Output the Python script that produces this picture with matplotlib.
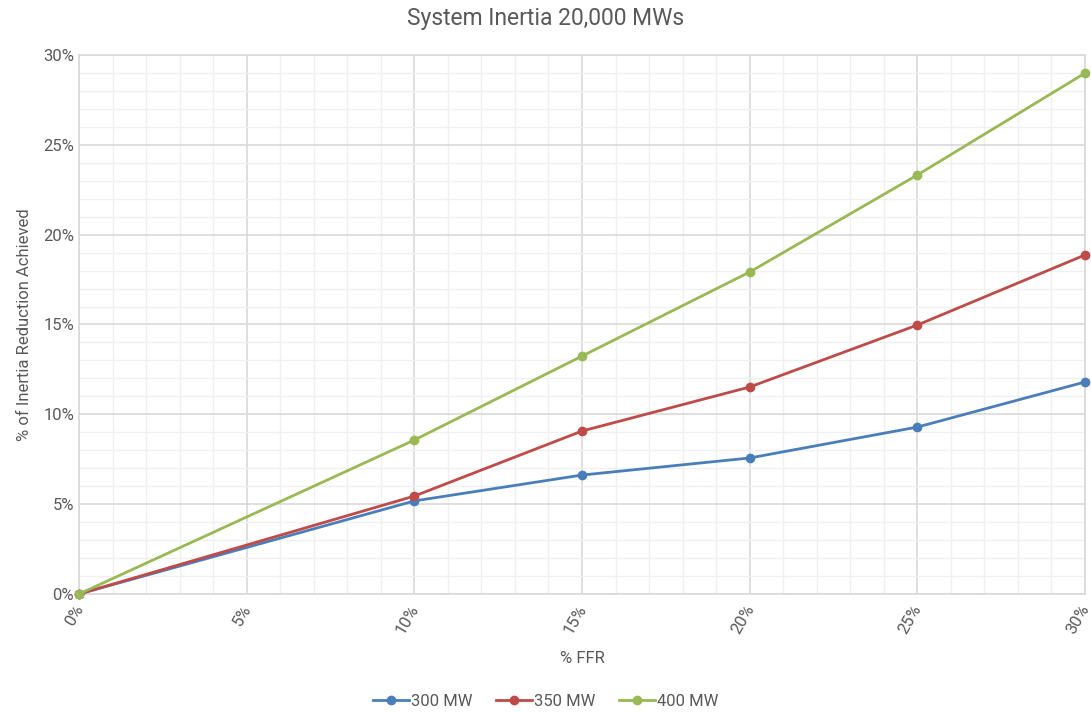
import matplotlib
matplotlib.use("Agg")
import matplotlib.pyplot as plt
from matplotlib.ticker import MultipleLocator, PercentFormatter
from matplotlib.transforms import ScaledTranslation

plt.rcParams['font.family'] = ['Roboto', 'DejaVu Sans']

# % FFR and % inertia reduction achieved for each FFR size
ffr = [0, 10, 15, 20, 25, 30]
mw_300 = [0, 5.18, 6.62, 7.57, 9.29, 11.80]
mw_350 = [0, 5.45, 9.07, 11.52, 14.97, 18.87]
mw_400 = [0, 8.57, 13.24, 17.92, 23.32, 28.99]

series = [("300 MW", mw_300, "#4a7ebb"),
          ("350 MW", mw_350, "#be4b48"),
          ("400 MW", mw_400, "#98b954")]

text_col = "#595959"

fig = plt.figure(figsize=(10.91, 7.13), dpi=100)
ax = fig.add_axes([0.0724, 0.1669, 0.9221, 0.756])

for label, vals, col in series:
    ax.plot(ffr, vals, color=col, lw=2, marker='o', ms=6, label=label, zorder=3, clip_on=False)

ax.set_xlim(0, 30)
ax.set_ylim(0, 30)
ax.xaxis.set_major_locator(MultipleLocator(5))
ax.yaxis.set_major_locator(MultipleLocator(5))
ax.xaxis.set_minor_locator(MultipleLocator(1))
ax.yaxis.set_minor_locator(MultipleLocator(1))
ax.xaxis.set_major_formatter(PercentFormatter(decimals=0))
ax.yaxis.set_major_formatter(PercentFormatter(decimals=0))

ax.grid(which='major', color='#d9d9d9', lw=1.2)
ax.grid(which='minor', color='#f0f0f0', lw=1.0)
ax.set_axisbelow(True)
for s in ax.spines.values():
    s.set_color('#d9d9d9')
    s.set_linewidth(1.2)

ax.tick_params(which='both', length=0, colors=text_col, labelsize=12)
ax.tick_params(axis='x', pad=6)
# rotated x labels, nudged a few px left so the last one stays on the canvas
shift = ScaledTranslation(-4 / 72, 0, fig.dpi_scale_trans)
for t in ax.get_xticklabels():
    t.set_rotation(60)
    t.set_ha('right')
    t.set_va('top')
    t.set_rotation_mode('anchor')
    t.set_transform(t.get_transform() + shift)

ax.set_xlabel('% FFR', color=text_col, fontsize=12, labelpad=10)
ax.set_ylabel('% of Inertia Reduction Achieved', color=text_col, fontsize=12, labelpad=8)
fig.suptitle('System Inertia 20,000 MWs', color=text_col, fontsize=16.5, y=0.99)

fig.legend(loc='lower center', ncol=3, frameon=False, fontsize=12,
           labelcolor=text_col, bbox_to_anchor=(0.5, -0.015), handlelength=2.2,
           columnspacing=1.4, handletextpad=0.1)

fig.savefig('out.png', dpi=100)
